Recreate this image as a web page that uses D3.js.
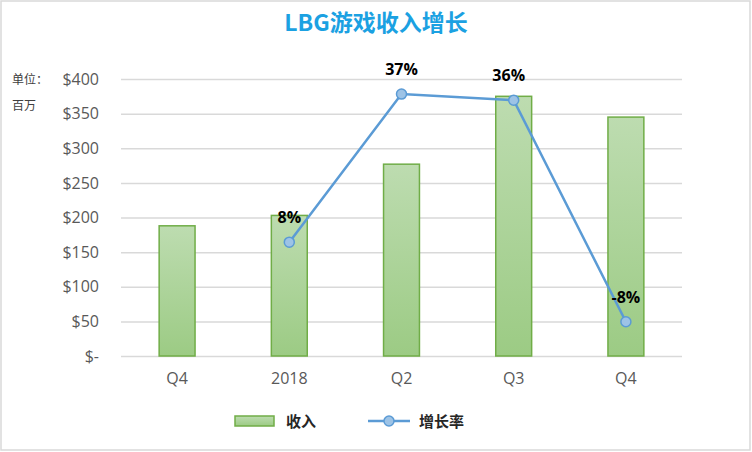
<!DOCTYPE html>
<html>
<head>
<meta charset="utf-8">
<script src="https://cdn.jsdelivr.net/npm/d3@7"></script>
<style>
body{margin:0;background:#fff;}
text{font-family:"Open Sans","Noto Sans CJK SC",sans-serif;}
</style>
</head>
<body>
<div id="chart"></div>
<script>
var categories = ["Q4", "2018", "Q2", "Q3", "Q4"];
var revenue = [188, 203, 277, 375, 345];
var growth = [null, 0.076, 0.37, 0.358, -0.082];
var yTicks = [0, 50, 100, 150, 200, 250, 300, 350, 400];

var W = 752, H = 452;
var m = {left: 121, right: 70, top: 79, bottom: 96};

var svg = d3.select("#chart").append("svg").attr("width", W).attr("height", H);

// border
svg.append("rect").attr("x", 1).attr("y", 1).attr("width", W - 3).attr("height", H - 3)
    .attr("fill", "#fff").attr("stroke", "#d9d9d9").attr("stroke-width", 1.5);

var defs = svg.append("defs");
var grad = defs.append("linearGradient").attr("id", "barGrad")
    .attr("x1", 0).attr("y1", 0).attr("x2", 0).attr("y2", 1);
grad.append("stop").attr("offset", "0%").attr("stop-color", "#bddcb0");
grad.append("stop").attr("offset", "100%").attr("stop-color", "#9ccb84");

var x = d3.scaleBand().domain(d3.range(categories.length))
    .range([m.left, W - m.right]).paddingInner(0.68).paddingOuter(0.34);
var y = d3.scaleLinear().domain([0, 400]).range([H - m.bottom, m.top]);
var y2 = d3.scaleLinear().domain([-0.15, 0.4]).range([H - m.bottom, m.top]);
var pct = g => d3.format(".0%")(g).replace("\u2212", "-");

// title
svg.append("text").attr("x", 376).attr("y", 31).attr("text-anchor", "middle")
    .attr("font-size", 23).attr("font-weight", "bold").attr("fill", "#1ba1e2")
    .style("font-family", "'Noto Sans CJK SC',sans-serif")
    .text("LBG游戏收入增长");

// unit label
svg.append("text").attr("x", 12).attr("y", 84).attr("font-size", 12).attr("fill", "#404040")
    .style("font-family", "'Noto Sans CJK SC',sans-serif").text("单位：");
svg.append("text").attr("x", 12).attr("y", 110).attr("font-size", 12).attr("fill", "#404040")
    .style("font-family", "'Noto Sans CJK SC',sans-serif").text("百万");

// y axis + grid
var yAxis = d3.axisLeft(y).tickValues(yTicks).tickSize(-(W - m.left - m.right)).tickPadding(22)
    .tickFormat(d => d === 0 ? "$-" : "$" + d);
var gy = svg.append("g").attr("transform", "translate(" + m.left + ",0)").call(yAxis);
gy.select(".domain").remove();
gy.selectAll("line").attr("stroke", "#d9d9d9").attr("stroke-width", 1.5);
gy.selectAll("text").attr("font-size", 16).attr("fill", "#595959")
    .style("font-family", "'Open Sans',sans-serif");

// x axis
var xAxis = d3.axisBottom(x).tickSize(0).tickPadding(17).tickFormat(i => categories[i]);
var gx = svg.append("g").attr("transform", "translate(0," + (H - m.bottom) + ")").call(xAxis);
gx.select(".domain").remove();
gx.selectAll("text").attr("font-size", 16).attr("fill", "#595959")
    .style("font-family", "'Open Sans',sans-serif");

// bars
svg.append("g").selectAll("rect").data(revenue).join("rect")
    .attr("x", (d, i) => x(i)).attr("y", d => y(d))
    .attr("width", x.bandwidth()).attr("height", d => y(0) - y(d))
    .attr("fill", "url(#barGrad)").attr("stroke", "#70ad47").attr("stroke-width", 1.5);

// growth line
var pts = growth.map((g, i) => ({i: i, g: g})).filter(d => d.g !== null);
var line = d3.line().x(d => x(d.i) + x.bandwidth() / 2).y(d => y2(d.g));
svg.append("path").datum(pts).attr("d", line)
    .attr("fill", "none").attr("stroke", "#5b9bd5").attr("stroke-width", 2.5);
svg.append("g").selectAll("circle").data(pts).join("circle")
    .attr("cx", d => x(d.i) + x.bandwidth() / 2).attr("cy", d => y2(d.g)).attr("r", 5)
    .attr("fill", "#9dc3e6").attr("stroke", "#5b9bd5").attr("stroke-width", 1.5);
svg.append("g").selectAll("text").data(pts).join("text")
    .attr("x", d => x(d.i) + x.bandwidth() / 2 + (d.i === 3 ? -5 : 0))
    .attr("y", d => y2(d.g) - 19)
    .attr("text-anchor", "middle").attr("font-size", 16).attr("font-weight", "bold").attr("fill", "#000")
    .style("font-family", "'Open Sans',sans-serif")
    .text(d => pct(d.g));

// legend
var lg = svg.append("g");
lg.append("rect").attr("x", 235).attr("y", 416).attr("width", 39).attr("height", 10)
    .attr("fill", "url(#barGrad)").attr("stroke", "#70ad47").attr("stroke-width", 1.5);
lg.append("text").attr("x", 286).attr("y", 427).attr("font-size", 15).attr("font-weight", "bold")
    .attr("fill", "#262626")
    .style("font-family", "'Noto Sans CJK SC',sans-serif").text("收入");
lg.append("line").attr("x1", 368).attr("x2", 410).attr("y1", 421).attr("y2", 421)
    .attr("stroke", "#5b9bd5").attr("stroke-width", 2.5);
lg.append("circle").attr("cx", 389).attr("cy", 421).attr("r", 5)
    .attr("fill", "#9dc3e6").attr("stroke", "#5b9bd5").attr("stroke-width", 1.5);
lg.append("text").attr("x", 419).attr("y", 427).attr("font-size", 15).attr("font-weight", "bold")
    .attr("fill", "#262626")
    .style("font-family", "'Noto Sans CJK SC',sans-serif").text("增长率");
</script>
</body>
</html>
